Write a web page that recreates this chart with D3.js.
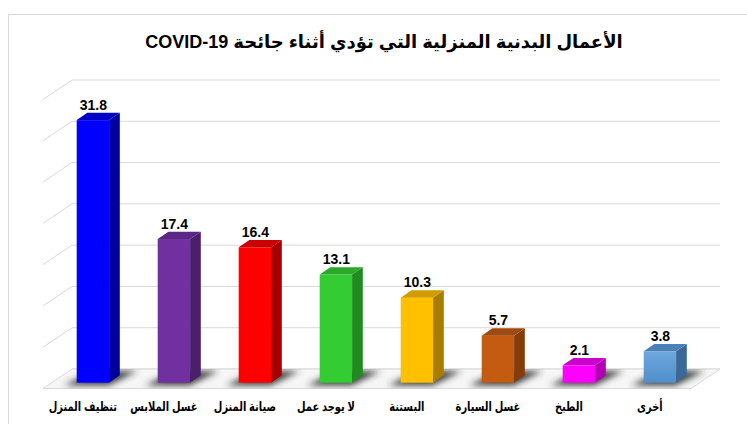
<!DOCTYPE html>
<html>
<head>
<meta charset="utf-8">
<script src="https://cdn.jsdelivr.net/npm/d3@7"></script>
<style>
  body { margin: 0; background: #fff; }
  svg { display: block; }
</style>
</head>
<body>
<div id="chart"></div>
<script>
// data
const categories = ["تنظيف المنزل", "غسل الملابس", "صيانة المنزل", "لا يوجد عمل", "البستنة", "غسل السيارة", "الطبخ", "أخرى"];
const values = [31.8, 17.4, 16.4, 13.1, 10.3, 5.7, 2.1, 3.8];
const yTicks = [0, 5, 10, 15, 20, 25, 30, 35];
const titleText = "الأعمال البدنية المنزلية التي تؤدي أثناء جائحة COVID-19";

// face colours: front, side, top
const fronts = ["#0000ff", "#7030a0", "#ff0000", "#33cc33", "#ffc000", "#c55a11", "#ff00ff", "#5b9bd5"];
const sides  = ["#00009c", "#4a1f6b", "#a60000", "#218a21", "#a67d00", "#843c0c", "#b000b0", "#3b6896"];
const tops   = ["#0000c4", "#5b2785", "#c80000", "#29a829", "#d09c00", "#9f4a0e", "#cc00cc", "#4a80b8"];

const width = 747, height = 424;
const font = "Arial, 'Liberation Sans', 'DejaVu Sans', sans-serif";

const svg = d3.select("#chart").append("svg")
  .attr("width", width)
  .attr("height", height);

const defs = svg.append("defs");
defs.append("filter").attr("id", "blur")
  .attr("x", "-50%").attr("y", "-50%").attr("width", "200%").attr("height", "200%")
  .append("feGaussianBlur").attr("stdDeviation", 3);

const grad = defs.append("linearGradient").attr("id", "gBlue").attr("x1", 0).attr("x2", 0).attr("y1", 0).attr("y2", 1);
grad.append("stop").attr("offset", "0%").attr("stop-color", "#6ea7dd");
grad.append("stop").attr("offset", "100%").attr("stop-color", "#4f8fcc");

// chart border
svg.append("rect")
  .attr("x", 8.5).attr("y", 14.5)
  .attr("width", 800).attr("height", 500)
  .attr("fill", "none").attr("stroke", "#d9d9d9");

// title
svg.append("text")
  .attr("x", 384).attr("y", 48)
  .attr("text-anchor", "middle")
  .attr("direction", "rtl")
  .attr("font-family", font)
  .attr("font-size", 18)
  .attr("font-weight", 700)
  .attr("fill", "#000")
  .text(titleText);

// 3d geometry
const wallLeft = 72, wallRight = 720;
const floorDX = 29, floorDY = 19.5;      // depth of the floor
const barDX = 10.7, barDY = -7.4;        // depth of each bar
const barFrontDY = 13.7;                 // bar front plane below back wall

const y = d3.scaleLinear().domain([0, 35]).range([369, 80]);

const x = d3.scaleBand()
  .domain(categories)
  .range([52.4, 700.4])
  .paddingInner(0.6)
  .paddingOuter(0.3);

// back wall gridlines
svg.append("g").selectAll("line.grid")
  .data(yTicks)
  .join("line")
  .attr("class", "grid")
  .attr("x1", wallLeft).attr("x2", wallRight)
  .attr("y1", d => y(d)).attr("y2", d => y(d))
  .attr("stroke", "#d9d9d9").attr("stroke-width", 1);

// left wall diagonals
svg.append("g").selectAll("line.diag")
  .data(yTicks.slice(1))
  .join("line")
  .attr("class", "diag")
  .attr("x1", wallLeft - floorDX).attr("y1", d => y(d) + floorDY)
  .attr("x2", wallLeft).attr("y2", d => y(d))
  .attr("stroke", "#d9d9d9").attr("stroke-width", 1);

// floor
const y0 = y(0);
const floorPts = [
  [wallLeft, y0], [wallRight, y0],
  [wallRight - floorDX, y0 + floorDY], [wallLeft - floorDX, y0 + floorDY]
];
defs.append("clipPath").attr("id", "floorClip")
  .append("polygon").attr("points", floorPts.map(p => p.join(",")).join(" "));

svg.append("polygon")
  .attr("points", floorPts.map(p => p.join(",")).join(" "))
  .attr("fill", "#f6f6f6")
  .attr("stroke", "#d9d9d9");

// shadows on the floor
const shadowG = svg.append("g").attr("clip-path", "url(#floorClip)")
  .append("g").attr("filter", "url(#blur)");

categories.forEach((c, i) => {
  const xf = x(c), bw = x.bandwidth();
  const xb = xf + floorDX * (barFrontDY / floorDY); // bar left at back wall
  const pts = [
    [xb - 4, y0 + 2], [xb + bw + 8, y0 + 2],
    [xb + bw + 8 - floorDX, y0 + floorDY - 3], [xb - 4 - floorDX, y0 + floorDY - 3]
  ];
  shadowG.append("polygon")
    .attr("points", pts.map(p => p.join(",")).join(" "))
    .attr("fill", "#2e2e2e")
    .attr("opacity", 0.9);
});

// bars
const bars = svg.append("g");
categories.forEach((c, i) => {
  const v = values[i];
  const xf = x(c), bw = x.bandwidth();
  const yt = y(v) + barFrontDY;
  const yb = y(0) + barFrontDY;

  const g = bars.append("g");
  g.append("rect")
    .attr("x", xf).attr("y", yt)
    .attr("width", bw).attr("height", yb - yt)
    .attr("fill", i === 7 ? "url(#gBlue)" : fronts[i]);

  g.append("polygon")
    .attr("points", [[xf + bw, yt], [xf + bw + barDX, yt + barDY], [xf + bw + barDX, yb + barDY], [xf + bw, yb]]
      .map(p => p.join(",")).join(" "))
    .attr("fill", sides[i]);

  g.append("polygon")
    .attr("points", [[xf, yt], [xf + barDX, yt + barDY], [xf + bw + barDX, yt + barDY], [xf + bw, yt]]
      .map(p => p.join(",")).join(" "))
    .attr("fill", tops[i]);

  // value label
  g.append("text")
    .attr("x", xf + bw / 2 + 0.5)
    .attr("y", yt - 10.5)
    .attr("text-anchor", "middle")
    .attr("font-family", font)
    .attr("font-size", 14)
    .attr("font-weight", 700)
    .attr("fill", "#000")
    .text(d3.format(".1f")(v));
});

// category labels (DejaVu Arabic runs wide, so squeeze horizontally)
svg.append("g").selectAll("text.cat")
  .data(categories)
  .join("text")
  .attr("class", "cat")
  .attr("transform", d => `translate(${x(d) + x.bandwidth() / 2 - 10},411) scale(0.76,1)`)
  .attr("text-anchor", "middle")
  .attr("direction", "rtl")
  .attr("font-family", font)
  .attr("font-size", 13)
  .attr("font-weight", 700)
  .attr("fill", "#000")
  .text(d => d);
</script>
</body>
</html>
